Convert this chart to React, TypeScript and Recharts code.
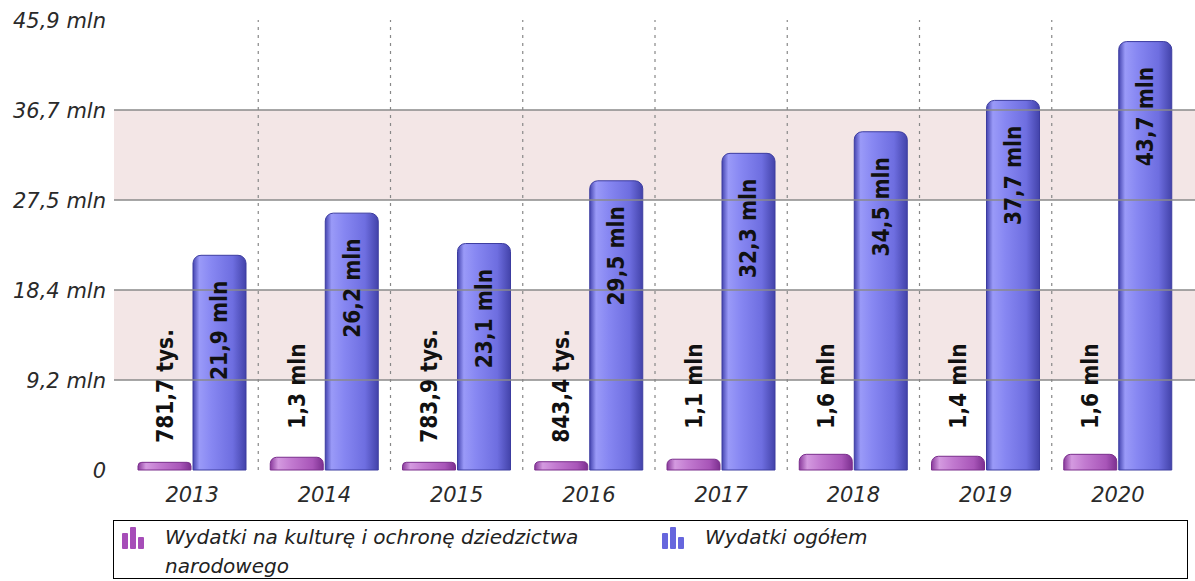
import React from 'react';
import { BarChart, Bar, XAxis, YAxis, CartesianGrid, ReferenceLine, LabelList } from 'recharts';

const years = ['2013', '2014', '2015', '2016', '2017', '2018', '2019', '2020'];
const cultureValues = [0.7817, 1.3, 0.7839, 0.8434, 1.1, 1.6, 1.4, 1.6];
const totalValues = [21.9, 26.2, 23.1, 29.5, 32.3, 34.5, 37.7, 43.7];
const yTicks = [0, 9.18, 18.36, 27.54, 36.72, 45.9];
const seriesNames = ['Wydatki na kulturę i ochronę dziedzictwa narodowego', 'Wydatki ogółem'];

const data = years.map((y, i) => ({ year: y, culture: cultureValues[i], total: totalValues[i] }));

const fmtTick = (v: number) => (v === 0 ? '0' : v.toFixed(1).replace('.', ',') + ' mln');
const fmtLabel = (v: number) =>
  v < 1 ? (v * 1000).toFixed(1).replace('.', ',') + ' tys.' : v.toFixed(1).replace('.', ',') + ' mln';

const labelFont = '"DejaVu Sans Condensed", "DejaVu Sans", sans-serif';
const axisFont = '"DejaVu Sans", Verdana, sans-serif';

const TotalLabel = (props: any) => {
  const { x, y, width, value } = props;
  const cx = x + width / 2;
  const cy = y + 75;
  return (
    <text x={cx} y={cy} transform={`rotate(-90 ${cx} ${cy})`} textAnchor="middle" dominantBaseline="central"
      fontFamily={labelFont} fontStretch="condensed" fontWeight="bold" fontSize={22.5} fill="#111">
      {fmtLabel(value)}
    </text>
  );
};

const CultureLabel = (props: any) => {
  const { x, y, width, height, value } = props;
  const cx = x + width / 2;
  const cy = y + height - 84;
  return (
    <text x={cx} y={cy} transform={`rotate(-90 ${cx} ${cy})`} textAnchor="middle" dominantBaseline="central"
      fontFamily={labelFont} fontStretch="condensed" fontWeight="bold" fontSize={22.5} fill="#111">
      {fmtLabel(value)}
    </text>
  );
};

const XTick = (props: any) => {
  const { x, y, payload } = props;
  return (
    <text x={x} y={y} dy={32} textAnchor="middle" fontFamily={axisFont} fontStyle="italic" fontSize={21} fill="#2a2a2a">
      {payload.value}
    </text>
  );
};

const YTick = (props: any) => {
  const { x, y, payload } = props;
  return (
    <text x={x} y={y} dy="0.36em" textAnchor="end" fontFamily={axisFont} fontStyle="italic" fontSize={21} fill="#2a2a2a">
      {fmtTick(payload.value)}
    </text>
  );
};

const Icon = ({ color }: { color: string }) => (
  <svg width={24} height={22} style={{ display: 'block' }}>
    <rect x={0} y={6} width={6} height={16} rx={1} fill={color} />
    <rect x={8} y={0} width={6} height={22} rx={1} fill={color} />
    <rect x={16} y={10} width={6} height={12} rx={1} fill={color} />
  </svg>
);

export default function App() {
  return (
    <div style={{ position: 'absolute', left: 0, top: 0, width: 1195, height: 581, background: '#fff', overflow: 'hidden' }}>
      <BarChart width={1195} height={581} data={data} margin={{ top: 20, right: 0, bottom: 0, left: 0 }}
        barGap={2} barSize={53}>
        <defs>
          <linearGradient id="gBlue" x1="0" y1="0" x2="1" y2="0">
            <stop offset="0%" stopColor="#4545b0" />
            <stop offset="12%" stopColor="#9a9af8" />
            <stop offset="35%" stopColor="#8787f2" />
            <stop offset="75%" stopColor="#6e6ee0" />
            <stop offset="100%" stopColor="#4343aa" />
          </linearGradient>
          <linearGradient id="gPurple" x1="0" y1="0" x2="1" y2="0">
            <stop offset="0%" stopColor="#8a3a9c" />
            <stop offset="15%" stopColor="#d49ae0" />
            <stop offset="40%" stopColor="#c27ad0" />
            <stop offset="80%" stopColor="#a855b8" />
            <stop offset="100%" stopColor="#7c3090" />
          </linearGradient>
        </defs>
        <CartesianGrid vertical={false} stroke="#000" strokeOpacity={0} horizontalFill={['#ffffff', '#f3e6e6']} />
        <XAxis dataKey="year" axisLine={false} tickLine={false} tickSize={0} tickMargin={0} height={111}
          padding={{ left: 12, right: 11 }} tick={<XTick />} interval={0} />
        <YAxis domain={[0, 45.9]} ticks={yTicks} interval={0} axisLine={false} tickLine={false} tickSize={0}
          tickMargin={8} width={114} tick={<YTick />} />
        {yTicks.slice(1, 5).map((t) => (
          <ReferenceLine key={'h' + t} y={t} stroke="#8a8a8a" strokeWidth={1.5} />
        ))}
        {years.slice(1).map((yr) => (
          <ReferenceLine key={'v' + yr} x={yr} position="start" stroke="#888" strokeDasharray="3 5" strokeWidth={1.2} />
        ))}
        <Bar dataKey="culture" name={seriesNames[0]} fill="url(#gPurple)" stroke="#7a2e8c" strokeWidth={1}
          radius={[7, 7, 0, 0]} isAnimationActive={false}>
          <LabelList dataKey="culture" content={<CultureLabel />} />
        </Bar>
        <Bar dataKey="total" name={seriesNames[1]} fill="url(#gBlue)" stroke="#3c3ca0" strokeWidth={1}
          radius={[8, 8, 0, 0]} isAnimationActive={false}>
          <LabelList dataKey="total" content={<TotalLabel />} />
        </Bar>
      </BarChart>
      <div style={{ position: 'absolute', left: 113, top: 520, width: 1073, height: 57, border: '1px solid #000',
        fontFamily: axisFont, fontStyle: 'italic', fontSize: 20, lineHeight: '29px', color: '#222' }}>
        <div style={{ position: 'absolute', left: 8, top: 6 }}><Icon color="#a64db8" /></div>
        <div style={{ position: 'absolute', left: 51, top: 2, width: 440 }}>{seriesNames[0]}</div>
        <div style={{ position: 'absolute', left: 548, top: 6 }}><Icon color="#6666dd" /></div>
        <div style={{ position: 'absolute', left: 591, top: 2, width: 300 }}>{seriesNames[1]}</div>
      </div>
    </div>
  );
}
